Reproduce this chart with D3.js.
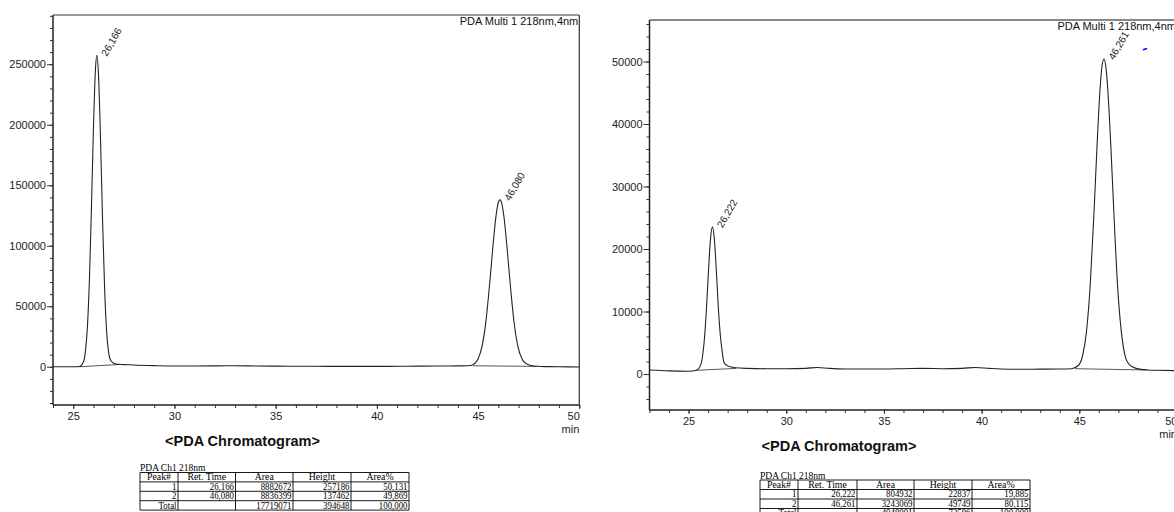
<!DOCTYPE html>
<html>
<head>
<meta charset="utf-8">
<script src="https://cdn.jsdelivr.net/npm/d3@7/dist/d3.min.js"></script>
<style>
  html, body { margin: 0; padding: 0; background: #fff; }
  svg { display: block; }
</style>
</head>
<body>
<svg id="chart" width="1174" height="512"></svg>
<script>
// ---------------- DATA ----------------
const leftTime = [24, 25, 25.3, 25.5, 25.6, 25.7, 25.8, 25.9, 26.0, 26.1, 26.166, 26.25, 26.35, 26.45, 26.55, 26.65, 26.75, 26.85, 27.0, 27.2, 27.5, 28, 29, 30, 31, 32, 33, 34, 35, 36, 37, 38, 39, 40, 41, 42, 43, 44, 44.5, 44.78, 44.98, 45.18, 45.38, 45.58, 45.73, 45.88, 45.98, 46.08, 46.18, 46.28, 46.43, 46.58, 46.78, 46.98, 47.18, 47.38, 47.6, 47.9, 48.5, 49, 50];
const leftSignal = [0, 0, 200, 3900, 12500, 33000, 72500, 131700, 198200, 246800, 257300, 240600, 186700, 120500, 64500, 29000, 11500, 5200, 2900, 2000, 1800, 1400, 900, 600, 600, 700, 800, 600, 500, 400, 400, 300, 300, 300, 400, 500, 600, 700, 800, 2150, 5800, 15800, 36700, 70100, 99000, 123900, 134400, 137900, 134300, 123700, 98700, 69800, 36400, 15900, 6300, 2600, 1100, 400, 100, 0, -200];
const leftBaselines = [[[25.3, 0], [27.3, 1900]], [[44.75, 800], [47.9, 300]]];
const leftPeakTimes = [26.166, 46.080];
const leftPeakLabels = ["26,166", "46,080"];
const leftYTicks = [0, 50000, 100000, 150000, 200000, 250000];

const rightTime = [23, 24, 25, 25.4, 25.62, 25.72, 25.82, 25.92, 26.02, 26.12, 26.222, 26.32, 26.42, 26.52, 26.62, 26.72, 26.82, 27.0, 27.4, 28, 29, 30, 31, 31.6, 32.2, 33, 34, 35, 36, 37, 38, 39, 39.7, 40.4, 41, 42, 43, 44, 44.6, 44.96, 45.16, 45.36, 45.56, 45.76, 45.91, 46.06, 46.16, 46.261, 46.36, 46.46, 46.61, 46.76, 46.96, 47.16, 47.36, 47.56, 47.9, 48.5, 49, 50];
const rightSignal = [650, 500, 450, 600, 1460, 2960, 5950, 10710, 16540, 21540, 23540, 21560, 16590, 10790, 6400, 3600, 1800, 1300, 1000, 900, 850, 850, 900, 1050, 900, 800, 800, 800, 850, 900, 850, 900, 1050, 900, 800, 750, 780, 800, 850, 1400, 2840, 6600, 14330, 26390, 36720, 45520, 49240, 50400, 49100, 45400, 36700, 26400, 14000, 6500, 2700, 1500, 900, 650, 600, 530];
const rightBaselines = [[[25.4, 590], [27.44, 900]], [[44.77, 850], [48.48, 640]]];
const rightPeakTimes = [26.222, 46.261];
const rightPeakLabels = ["26,222", "46,261"];
const rightYTicks = [0, 10000, 20000, 30000, 40000, 50000];
const rightMarker = [[48.26, 51870], [48.47, 52080]];

const xTicks = [25, 30, 35, 40, 45, 50];
const detectorLabel = "PDA Multi 1 218nm,4nm";
const chartTitle = "<PDA Chromatogram>";
const tableTitle = "PDA Ch1 218nm";
const tableHeader = ["Peak#", "Ret. Time", "Area", "Height", "Area%"];
const leftTableRows = [
  ["1", "26,166", "8882672", "257186", "50,131"],
  ["2", "46,080", "8836399", "137462", "49,869"],
  ["Total", "", "17719071", "394648", "100,000"]
];
const rightTableRows = [
  ["1", "26,222", "804932", "22837", "19,885"],
  ["2", "46,261", "3243069", "49749", "80,115"],
  ["Total", "", "4048001", "72586", "100,000"]
];

// ---------------- DRAWING ----------------
const svg = d3.select("#chart");
const SANS = "'Liberation Sans', Arial, sans-serif";
const SERIF = "'Liberation Serif', 'Times New Roman', serif";

function drawChart(cfg) {
  const x = d3.scaleLinear().domain(cfg.xDomain).range([cfg.left, cfg.right]);
  const y = d3.scaleLinear().domain(cfg.yDomain).range([cfg.bottom, cfg.top]);
  const g = svg.append("g");

  const clipId = "clip" + cfg.id;
  svg.append("clipPath").attr("id", clipId).append("rect")
    .attr("x", cfg.left).attr("y", cfg.top)
    .attr("width", cfg.right - cfg.left).attr("height", cfg.bottom - cfg.top);

  // minor y ticks
  const minorY = d3.range(Math.ceil(cfg.yDomain[0] / cfg.yMinor) * cfg.yMinor, cfg.yDomain[1], cfg.yMinor);
  g.append("g").attr("transform", `translate(${cfg.left},0)`)
    .call(d3.axisLeft(y).tickValues(minorY).tickSize(3).tickFormat(""))
    .call(s => s.select(".domain").remove())
    .call(s => s.selectAll("line").attr("stroke", "#333"));
  // major y ticks
  g.append("g").attr("transform", `translate(${cfg.left},0)`)
    .call(d3.axisLeft(y).tickValues(cfg.yTicks).tickSize(6).tickPadding(1).tickFormat(d3.format("d")))
    .call(s => s.select(".domain").remove())
    .call(s => s.selectAll("line").attr("stroke", "#333"))
    .call(s => s.selectAll("text").attr("font-family", SANS).attr("font-size", 11).attr("fill", "#222"));

  // minor x ticks
  const minorX = d3.range(Math.ceil(cfg.xDomain[0]), cfg.xDomain[1] + 0.001, 1);
  g.append("g").attr("transform", `translate(0,${cfg.bottom})`)
    .call(d3.axisBottom(x).tickValues(minorX).tickSize(3).tickFormat(""))
    .call(s => s.select(".domain").remove())
    .call(s => s.selectAll("line").attr("stroke", "#333"));
  const lastTick = xTicks[xTicks.length - 1];
  g.append("g").attr("transform", `translate(0,${cfg.bottom})`)
    .call(d3.axisBottom(x).tickValues(xTicks).tickSize(4).tickPadding(3).tickFormat(d3.format("d")))
    .call(s => s.select(".domain").remove())
    .call(s => s.selectAll("line").attr("stroke", "#333"))
    .call(s => s.selectAll("text").attr("font-family", SANS).attr("font-size", 11).attr("fill", "#222"))
    .call(s => s.selectAll(".tick").filter(d => d === lastTick).select("text")
      .attr("text-anchor", "end").attr("x", 0));

  // frame
  g.append("line").attr("x1", cfg.left).attr("x2", cfg.right).attr("y1", cfg.top).attr("y2", cfg.top)
    .attr("stroke", cfg.topColor).attr("stroke-width", cfg.topWidth);
  g.append("line").attr("x1", cfg.right).attr("x2", cfg.right).attr("y1", cfg.top).attr("y2", cfg.bottom)
    .attr("stroke", "#333").attr("stroke-width", 1.2);
  g.append("line").attr("x1", cfg.left).attr("x2", cfg.left).attr("y1", cfg.top).attr("y2", cfg.bottom)
    .attr("stroke", "#222").attr("stroke-width", 1.5);
  g.append("line").attr("x1", cfg.left).attr("x2", cfg.right).attr("y1", cfg.bottom).attr("y2", cfg.bottom)
    .attr("stroke", "#222").attr("stroke-width", 1.5);

  const plot = g.append("g").attr("clip-path", `url(#${clipId})`);
  // integration baselines
  const straight = d3.line().x(d => x(d[0])).y(d => y(d[1]));
  cfg.baselines.forEach(b => {
    plot.append("path").attr("d", straight(b)).attr("fill", "none")
      .attr("stroke", "#444").attr("stroke-width", 0.9);
  });
  // signal
  const pts = cfg.time.map((t, i) => [t, cfg.signal[i]]);
  const line = d3.line().x(d => x(d[0])).y(d => y(d[1])).curve(d3.curveMonotoneX);
  plot.append("path").attr("d", line(pts)).attr("fill", "none")
    .attr("stroke", "#222").attr("stroke-width", 1.1);

  // peak labels
  cfg.peakTimes.forEach((t, i) => {
    const idx = cfg.time.indexOf(t);
    const v = idx >= 0 ? cfg.signal[idx] : 0;
    const px = x(t) + 10, py = y(v) + 1.5;
    g.append("text").attr("transform", `translate(${px},${py}) rotate(-60)`)
      .attr("font-family", SANS).attr("font-size", 10).attr("fill", "#222")
      .text(cfg.peakLabels[i]);
  });

  if (cfg.marker) {
    g.append("path").attr("d", straight(cfg.marker)).attr("stroke", "#0000ff")
      .attr("stroke-width", 1.6).attr("fill", "none");
  }

  // detector label
  g.append("text").attr("x", cfg.right - 1).attr("y", cfg.top + 10)
    .attr("text-anchor", "end").attr("font-family", SANS).attr("font-size", 11).attr("fill", "#111")
    .text(detectorLabel);
  // min
  g.append("text").attr("x", cfg.right).attr("y", cfg.bottom + 27.5)
    .attr("text-anchor", "end").attr("font-family", SANS).attr("font-size", 11).attr("fill", "#222")
    .text("min");
  // title
  g.append("text").attr("x", cfg.left + 189.5).attr("y", cfg.bottom + 41)
    .attr("text-anchor", "middle").attr("font-family", SANS).attr("font-size", 14.5)
    .attr("font-weight", "bold").attr("fill", "#111")
    .text(chartTitle);
}

function drawTable(cfg) {
  const g = svg.append("g");
  const cols = cfg.cols; // column boundaries
  const rh = cfg.rowH;
  g.append("text").attr("x", cols[0]).attr("y", cfg.top - 1.5)
    .attr("font-family", SERIF).attr("font-size", 9.5).attr("fill", "#000")
    .text(tableTitle);
  const allRows = [tableHeader].concat(cfg.rows);
  const nRows = allRows.length;
  for (let r = 0; r <= nRows; r++) {
    g.append("line").attr("x1", cols[0]).attr("x2", cols[cols.length - 1])
      .attr("y1", cfg.top + r * rh).attr("y2", cfg.top + r * rh)
      .attr("stroke", "#000").attr("stroke-width", 0.9);
  }
  cols.forEach(c => {
    g.append("line").attr("x1", c).attr("x2", c)
      .attr("y1", cfg.top).attr("y2", cfg.top + nRows * rh)
      .attr("stroke", "#000").attr("stroke-width", 0.9);
  });
  allRows.forEach((row, r) => {
    row.forEach((cell, c) => {
      if (!cell) return;
      const isHead = r === 0;
      const xx = isHead ? (cols[c] + cols[c + 1]) / 2 : cols[c + 1] - 1.5;
      g.append("text")
        .attr("transform", `translate(${xx},${cfg.top + r * rh + 7.9}) scale(${isHead ? 1 : 0.9},1)`)
        .attr("text-anchor", isHead ? "middle" : "end")
        .attr("font-family", SERIF).attr("font-size", 9.8).attr("fill", "#000")
        .text(cell);
    });
  });
}

drawChart({
  id: "L", left: 53, right: 579.3, top: 15, bottom: 405,
  xDomain: [24, 50], yDomain: [-31600, 290700], yMinor: 10000, yTicks: leftYTicks,
  time: leftTime, signal: leftSignal, baselines: leftBaselines,
  peakTimes: leftPeakTimes, peakLabels: leftPeakLabels,
  topColor: "#333", topWidth: 1.2
});
drawChart({
  id: "R", left: 649.5, right: 1177, top: 20, bottom: 410,
  xDomain: [23, 50], yDomain: [-5760, 56640], yMinor: 2000, yTicks: rightYTicks,
  time: rightTime, signal: rightSignal, baselines: rightBaselines,
  peakTimes: rightPeakTimes, peakLabels: rightPeakLabels, marker: rightMarker,
  topColor: "#888", topWidth: 2
});
drawTable({ cols: [140, 178, 235.5, 293, 351, 409], top: 472.5, rowH: 9.4, rows: leftTableRows });
drawTable({ cols: [760, 798, 857, 914, 972, 1030], top: 480, rowH: 9.5, rows: rightTableRows });
</script>
</body>
</html>
